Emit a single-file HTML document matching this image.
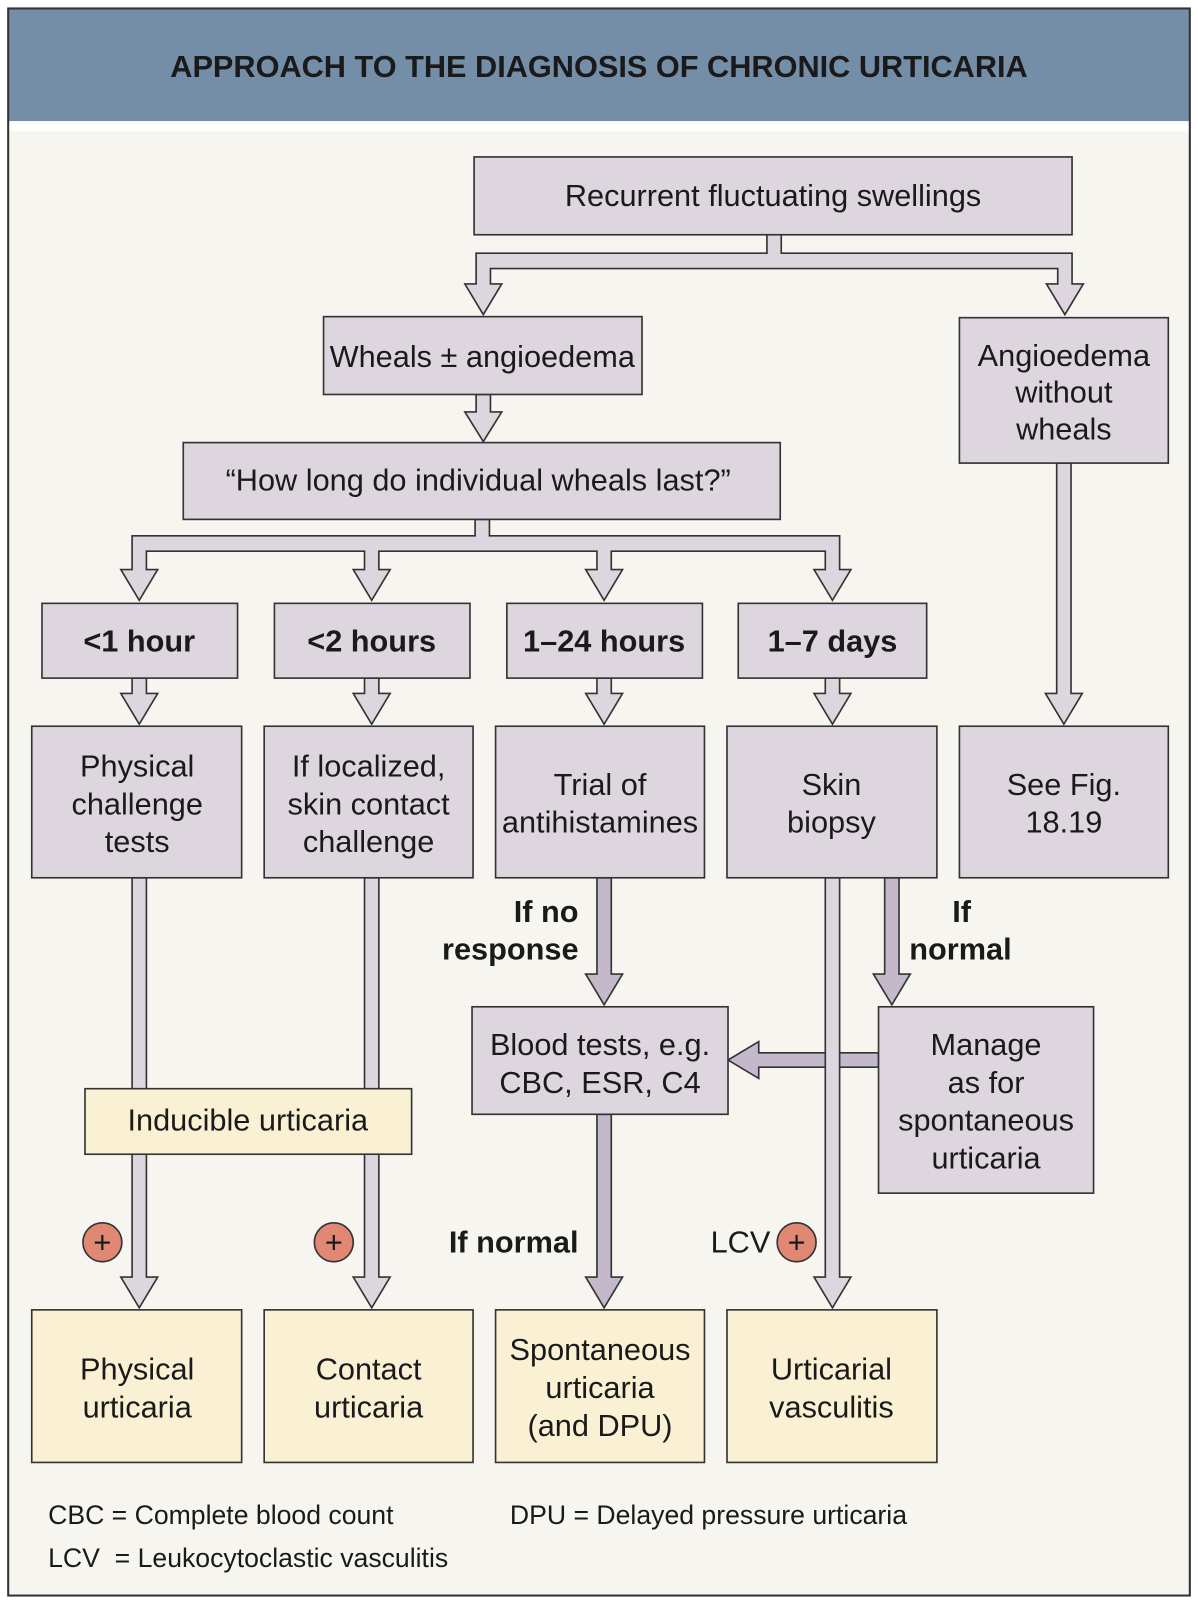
<!DOCTYPE html>
<html><head><meta charset="utf-8"><style>
html,body{margin:0;padding:0;background:#fff;}
svg{display:block;}
text{font-family:"Liberation Sans",Arial,sans-serif;fill:#1a1a1a;}
</style></head><body>
<svg width="1198" height="1604" viewBox="0 0 1170 1566" xmlns="http://www.w3.org/2000/svg">
<rect x="0" y="0" width="1170" height="1566" fill="#fff"/>
<rect x="8" y="128" width="1154" height="1430" fill="#f6f5f0"/>
<rect x="8" y="8" width="1154" height="110" fill="#748ea8"/>
<rect x="8" y="8" width="1154" height="1550" fill="none" stroke="#333" stroke-width="2"/>
<text x="585" y="75" font-size="30" font-weight="bold" text-anchor="middle">APPROACH TO THE DIAGNOSIS OF CHRONIC URTICARIA</text>

<g stroke="#333" stroke-width="1.6" stroke-linejoin="miter">
<path fill="#ddd6df" d="M749,229 L749,247 L465,247 L465,277 L454,277 L472,307 L490,277 L479,277 L479,262 L1033,262 L1033,277 L1022,277 L1040,307 L1058,277 L1047,277 L1047,247 L763,247 L763,229 Z"/>
<path fill="#ddd6df" d="M465,385 L465,402 L454,402 L472,431 L490,402 L479,402 L479,385 Z"/>
<path fill="#ddd6df" d="M464,507 L464,523 L129,523 L129,556 L118,556 L136,586 L154,556 L143,556 L143,538 L356,538 L356,556 L345,556 L363,586 L381,556 L370,556 L370,538 L583,538 L583,556 L572,556 L590,586 L608,556 L597,556 L597,538 L806,538 L806,556 L795,556 L813,586 L831,556 L820,556 L820,523 L478,523 L478,507 Z"/>
<path fill="#ddd6df" d="M129,662 L129,677 L118,677 L136,707 L154,677 L143,677 L143,662 Z"/>
<path fill="#ddd6df" d="M356,662 L356,677 L345,677 L363,707 L381,677 L370,677 L370,662 Z"/>
<path fill="#ddd6df" d="M583,662 L583,677 L572,677 L590,707 L608,677 L597,677 L597,662 Z"/>
<path fill="#ddd6df" d="M806,662 L806,677 L795,677 L813,707 L831,677 L820,677 L820,662 Z"/>
<path fill="#ddd6df" d="M1032,452 L1032,677 L1021,677 L1039,707 L1057,677 L1046,677 L1046,452 Z"/>
<path fill="#ddd6df" d="M129,857 L129,1247 L118,1247 L136,1277 L154,1247 L143,1247 L143,857 Z"/>
<path fill="#ddd6df" d="M356,857 L356,1247 L345,1247 L363,1277 L381,1247 L370,1247 L370,857 Z"/>
<path fill="#c4b8cb" d="M583,857 L583,951 L572,951 L590,981 L608,951 L597,951 L597,857 Z"/>
<path fill="#c4b8cb" d="M864,857 L864,951 L853,951 L871,981 L889,951 L878,951 L878,857 Z"/>
<path fill="#c4b8cb" d="M858,1028 L741,1028 L741,1017 L711,1035 L741,1053 L741,1042 L858,1042 Z"/>
<path fill="#c4b8cb" d="M583,1088 L583,1247 L572,1247 L590,1277 L608,1247 L597,1247 L597,1088 Z"/>
<path fill="#ddd6df" d="M806,857 L806,1247 L795,1247 L813,1277 L831,1247 L820,1247 L820,857 Z"/>

<rect x="463" y="153" width="584" height="76" fill="#ddd6df"/>
<rect x="316" y="309" width="311" height="76" fill="#ddd6df"/>
<rect x="937" y="310" width="204" height="142" fill="#ddd6df"/>
<rect x="179" y="432" width="583" height="75" fill="#ddd6df"/>
<rect x="41" y="589" width="191" height="73" fill="#ddd6df"/>
<rect x="268" y="589" width="191" height="73" fill="#ddd6df"/>
<rect x="495" y="589" width="191" height="73" fill="#ddd6df"/>
<rect x="721" y="589" width="184" height="73" fill="#ddd6df"/>
<rect x="31" y="709" width="205" height="148" fill="#ddd6df"/>
<rect x="258" y="709" width="204" height="148" fill="#ddd6df"/>
<rect x="484" y="709" width="204" height="148" fill="#ddd6df"/>
<rect x="710" y="709" width="205" height="148" fill="#ddd6df"/>
<rect x="937" y="709" width="204" height="148" fill="#ddd6df"/>
<rect x="461" y="983" width="250" height="105" fill="#ddd6df"/>
<rect x="858" y="983" width="210" height="182" fill="#ddd6df"/>
<rect x="83" y="1063" width="319" height="64" fill="#faf1d5"/>
<rect x="31" y="1279" width="205" height="149" fill="#faf1d5"/>
<rect x="258" y="1279" width="204" height="149" fill="#faf1d5"/>
<rect x="484" y="1279" width="204" height="149" fill="#faf1d5"/>
<rect x="710" y="1279" width="205" height="149" fill="#faf1d5"/>
<circle cx="100" cy="1213" r="19" fill="#e08873"/>
<circle cx="326" cy="1213" r="19" fill="#e08873"/>
<circle cx="778" cy="1213" r="19" fill="#e08873"/>
</g>

<g font-size="30" text-anchor="middle">
<text x="755" y="201">Recurrent fluctuating swellings</text>
<text x="471" y="358">Wheals ± angioedema</text>
<text x="1039" y="357">Angioedema</text>
<text x="1039" y="393">without</text>
<text x="1039" y="429">wheals</text>
<text x="467" y="479">“How long do individual wheals last?”</text>
<g font-weight="bold" font-size="30">
<text x="136" y="636">&lt;1 hour</text>
<text x="363" y="636">&lt;2 hours</text>
<text x="590" y="636">1–24 hours</text>
<text x="813" y="636">1–7 days</text>
</g>
<text x="134" y="758">Physical</text>
<text x="134" y="795">challenge</text>
<text x="134" y="832">tests</text>
<text x="360" y="758">If localized,</text>
<text x="360" y="795">skin contact</text>
<text x="360" y="832">challenge</text>
<text x="586" y="776">Trial of</text>
<text x="586" y="813">antihistamines</text>
<text x="812" y="776">Skin</text>
<text x="812" y="813">biopsy</text>
<text x="1039" y="776">See Fig.</text>
<text x="1039" y="813">18.19</text>
<text x="586" y="1030">Blood tests, e.g.</text>
<text x="586" y="1067">CBC, ESR, C4</text>
<text x="963" y="1030">Manage</text>
<text x="963" y="1067">as for</text>
<text x="963" y="1104">spontaneous</text>
<text x="963" y="1141">urticaria</text>
<text x="242" y="1104">Inducible urticaria</text>
<text x="134" y="1347">Physical</text>
<text x="134" y="1384">urticaria</text>
<text x="360" y="1347">Contact</text>
<text x="360" y="1384">urticaria</text>
<text x="586" y="1328">Spontaneous</text>
<text x="586" y="1365">urticaria</text>
<text x="586" y="1402">(and DPU)</text>
<text x="812" y="1347">Urticarial</text>
<text x="812" y="1384">vasculitis</text>
</g>
<g font-size="30" font-weight="bold">
<text x="565" y="900" text-anchor="end">If no</text>
<text x="565" y="937" text-anchor="end">response</text>
<text x="930" y="900">If</text>
<text x="888" y="937">normal</text>
<text x="565" y="1223" text-anchor="end">If normal</text>
</g>
<text x="694" y="1223" font-size="30">LCV</text>
<g font-size="30" text-anchor="middle">
<text x="100" y="1223">+</text>
<text x="326" y="1223">+</text>
<text x="778" y="1223">+</text>
</g>
<g font-size="26">
<text x="47" y="1488">CBC = Complete blood count</text>
<text x="498" y="1488">DPU = Delayed pressure urticaria</text>
<text x="47" y="1530" xml:space="preserve">LCV  = Leukocytoclastic vasculitis</text>
</g>
</svg>
</body></html>
